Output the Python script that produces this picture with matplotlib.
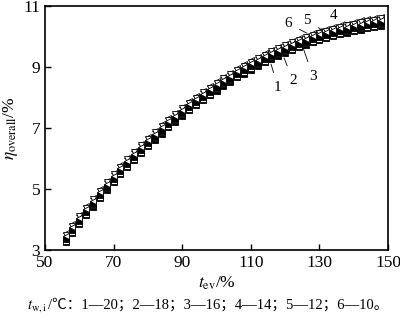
import numpy as np
import matplotlib
matplotlib.use('Agg')
import matplotlib.pyplot as plt

plt.rcParams['font.family'] = ['Liberation Serif', 'Noto Sans CJK SC']
plt.rcParams['mathtext.fontset'] = 'stix'

# t_ev, %
t_ev = np.arange(56, 149, 2)

# eta_overall, % for t_w,i = 20, 18, 16, 14, 12, 10 (curves 1..6)
eta_1 = [3.25, 3.55, 3.85, 4.14, 4.42, 4.70, 4.97, 5.23, 5.48, 5.72, 5.95, 6.18, 6.40, 6.61, 6.82, 7.02,
         7.21, 7.40, 7.58, 7.75, 7.92, 8.08, 8.23, 8.38, 8.52, 8.66, 8.79, 8.92, 9.04, 9.16, 9.27, 9.37,
         9.47, 9.56, 9.65, 9.73, 9.81, 9.88, 9.95, 10.01, 10.07, 10.13, 10.18, 10.23, 10.27, 10.31, 10.35]
eta_2 = [3.30, 3.60, 3.90, 4.19, 4.47, 4.75, 5.02, 5.28, 5.53, 5.77, 6.00, 6.23, 6.45, 6.66, 6.87, 7.07,
         7.26, 7.45, 7.63, 7.80, 7.97, 8.13, 8.28, 8.43, 8.57, 8.71, 8.84, 8.97, 9.09, 9.21, 9.32, 9.42,
         9.52, 9.61, 9.70, 9.78, 9.86, 9.93, 10.00, 10.06, 10.12, 10.18, 10.23, 10.28, 10.32, 10.36, 10.40]
eta_3 = [3.35, 3.65, 3.95, 4.24, 4.52, 4.80, 5.07, 5.33, 5.58, 5.82, 6.05, 6.28, 6.50, 6.71, 6.92, 7.12,
         7.31, 7.50, 7.68, 7.85, 8.02, 8.18, 8.33, 8.48, 8.62, 8.76, 8.89, 9.02, 9.14, 9.26, 9.37, 9.47,
         9.57, 9.66, 9.75, 9.83, 9.91, 9.98, 10.05, 10.11, 10.17, 10.23, 10.28, 10.33, 10.37, 10.41, 10.45]
eta_4 = [3.55, 3.85, 4.15, 4.44, 4.72, 5.00, 5.27, 5.53, 5.78, 6.02, 6.25, 6.48, 6.70, 6.91, 7.12, 7.32,
         7.51, 7.70, 7.88, 8.05, 8.22, 8.38, 8.53, 8.68, 8.82, 8.96, 9.09, 9.22, 9.34, 9.46, 9.57, 9.67,
         9.77, 9.86, 9.95, 10.03, 10.11, 10.18, 10.25, 10.31, 10.37, 10.43, 10.48, 10.53, 10.57, 10.61, 10.65]
eta_5 = [3.50, 3.80, 4.10, 4.39, 4.67, 4.95, 5.22, 5.48, 5.73, 5.97, 6.20, 6.43, 6.65, 6.86, 7.07, 7.27,
         7.46, 7.65, 7.83, 8.00, 8.17, 8.33, 8.48, 8.63, 8.77, 8.91, 9.04, 9.17, 9.29, 9.41, 9.52, 9.62,
         9.72, 9.81, 9.90, 9.98, 10.06, 10.13, 10.20, 10.26, 10.32, 10.38, 10.43, 10.48, 10.52, 10.56, 10.60]
eta_6 = [3.45, 3.75, 4.05, 4.34, 4.62, 4.90, 5.17, 5.43, 5.68, 5.92, 6.15, 6.38, 6.60, 6.81, 7.02, 7.22,
         7.41, 7.60, 7.78, 7.95, 8.12, 8.28, 8.43, 8.58, 8.72, 8.86, 8.99, 9.12, 9.24, 9.36, 9.47, 9.57,
         9.67, 9.76, 9.85, 9.93, 10.01, 10.08, 10.15, 10.21, 10.27, 10.33, 10.38, 10.43, 10.47, 10.51, 10.55]

fig = plt.figure(figsize=(4, 3.23), dpi=100)
ax = fig.add_axes([0.1125, 0.226, 0.8575, 0.755])

# маркеры
styles = [
    (eta_1, 's', 'black'),
    (eta_2, 's', 'white'),
    (eta_3, 's', 'black'),
    (eta_4, '<', 'white'),
    (eta_5, 'v', 'white'),
    (eta_6, '<', 'white'),
]
for eta, m, fc in styles:
    ax.plot(t_ev, eta, linestyle='none', marker=m, markersize=4,
            markerfacecolor=fc, markeredgecolor='black', markeredgewidth=0.6)

# подписи кривых
labels = ['1', '2', '3', '6', '5', '4']
text_xy = [(117.9, 8.34), (122.3, 8.57), (128.1, 8.70), (120.8, 10.44), (126.4, 10.54), (134.0, 10.70)]
head_xy = [(115.9, 9.10), (119.7, 9.30), (124.9, 9.75), (126.4, 10.11), (130.8, 10.21), (138.0, 10.44)]
for lab, txy, hxy in zip(labels, text_xy, head_xy):
    ax.annotate(lab, xy=hxy, xytext=txy, fontsize=11, ha='center', va='center',
                arrowprops=dict(arrowstyle='-', lw=0.6, color='black', shrinkA=4, shrinkB=0))

ax.set_xlim(50, 150)
ax.set_ylim(3, 11)
ax.set_xticks([50, 70, 90, 110, 130, 150])
ax.set_yticks([3, 5, 7, 9, 11])
ax.tick_params(direction='in', length=4, width=1, labelsize=12.5, top=False, right=False)
for s in ax.spines.values():
    s.set_linewidth(1.2)

ax.set_xlabel(r'$t_{\mathrm{ev}}$/%', fontsize=12.5, labelpad=3)
ax.set_ylabel(r'$\eta_{\mathrm{overall}}$/%', fontsize=12.5, labelpad=2)

fig.text(0.068, 0.045, r'$t_{\mathrm{w,i}}$', fontsize=10.5, ha='left', va='baseline')
fig.text(0.12, 0.045, '/℃：1—20；2—18；3—16；4—14；5—12；6—10。',
         fontsize=10.5, ha='left', va='baseline')

fig.savefig('out.png', dpi=100)
